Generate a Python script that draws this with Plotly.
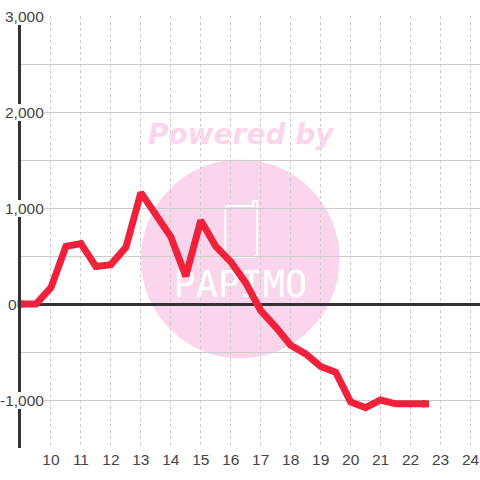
import plotly.graph_objects as go

hours = [9, 9.5, 10, 10.5, 11, 11.5, 12, 12.5, 13, 13.5, 14, 14.5, 15, 15.5, 16, 16.5,
         17, 17.5, 18, 18.5, 19, 19.5, 20, 20.5, 21, 21.5, 22, 22.5]
values = [0, 0, 170, 600, 630, 390, 410, 590, 1160, 920, 700, 290, 870, 600, 440, 220,
          -70, -240, -430, -520, -650, -710, -1020, -1080, -1000, -1040, -1040, -1040]
x_ticks = list(range(10, 25))
y_grid = [-1500, -1000, -500, 0, 500, 1000, 1500, 2000, 2500, 3000]
y_labels = {-1000: "-1,000", 0: "0", 1000: "1,000", 2000: "2,000", 3000: "3,000"}

RED = "#F0213A"
PINK = "#FBD5EC"
INK = "#444444"
FONT = "Liberation Sans"

L, T, B = 20.5, 16, 32
W = 480 - L
H = 480 - T - B


def px(x):
    return (x - L) / W


def py(y):
    return 1 - (y - T) / H


fig = go.Figure()

# watermark wordmark sits under the data line
fig.add_trace(go.Scatter(
    x=[16.32], y=[165],
    mode="text", text=["PAPIMO"], textposition="middle center",
    textfont=dict(family="DejaVu Sans Mono", size=37, color="white"),
    hoverinfo="skip", showlegend=False, cliponaxis=False,
))

# data line with square ends
sizes = [7] + [0] * (len(hours) - 2) + [7]
fig.add_trace(go.Scatter(
    x=hours, y=values, mode="lines+markers",
    line=dict(color=RED, width=7, shape="linear"),
    marker=dict(symbol="square", size=sizes, color=RED, opacity=1, line=dict(width=0)),
    hoverinfo="skip", showlegend=False, cliponaxis=False,
))

shapes = [
    dict(type="circle", xref="paper", yref="paper", layer="below",
         x0=px(140.5), x1=px(339.5), y0=py(358.5), y1=py(159.5),
         fillcolor=PINK, line=dict(width=0)),
    dict(type="path", xref="paper", yref="paper", layer="below",
         path=f"M {px(229)} {py(206)} L {px(253)} {py(206)} L {px(253)} {py(201)} "
              f"L {px(257)} {py(201)} L {px(257)} {py(253)} Q {px(257)} {py(257)} {px(253)} {py(257)} "
              f"L {px(229)} {py(257)} Q {px(225)} {py(257)} {px(225)} {py(253)} "
              f"L {px(225)} {py(210)} Q {px(225)} {py(206)} {px(229)} {py(206)} Z",
         fillcolor="rgba(0,0,0,0)", line=dict(color="white", width=2)),
]

annotations = [
    dict(xref="paper", yref="paper", x=px(241.5), y=py(134), text="Powered by",
         showarrow=False, xanchor="center", yanchor="middle",
         font=dict(family="DejaVu Sans", size=28, color=PINK, weight="bold", style="italic")),
]
for v, label in y_labels.items():
    annotations.append(dict(
        xref="paper", yref="y", x=px(16.5) if v == 0 else px(44), y=v, text=label,
        showarrow=False, xanchor="right", yanchor="middle", borderpad=0, borderwidth=0,
        bgcolor="rgba(0,0,0,0)" if v == 0 else "white",
        font=dict(family=FONT, size=15.5, color=INK),
    ))

fig.update_layout(
    width=480, height=480, autosize=False,
    margin=dict(l=L, r=0, t=T, b=B),
    paper_bgcolor="white", plot_bgcolor="white",
    shapes=shapes, annotations=annotations, showlegend=False,
    font=dict(family=FONT, size=15, color=INK),
    xaxis=dict(range=[9, 9 + W / 30], tickmode="array", tickvals=x_ticks,
               ticks="", showgrid=True, gridcolor="#cccccc", gridwidth=1,
               griddash="3px,3px", zeroline=False, showline=False,
               tickfont=dict(family=FONT, size=15.5, color=INK)),
    yaxis=dict(range=[-1500, 3000], tickmode="array", tickvals=y_grid,
               showticklabels=False, ticks="", showgrid=True, gridcolor="#cccccc",
               gridwidth=1, zeroline=True, zerolinecolor="#333333", zerolinewidth=3,
               showline=True, linecolor="#333333", linewidth=3),
)

fig.write_html("out.html", config=dict(displayModeBar=False),
               post_script="document.body.style.margin='0';document.documentElement.style.overflow='hidden';")
